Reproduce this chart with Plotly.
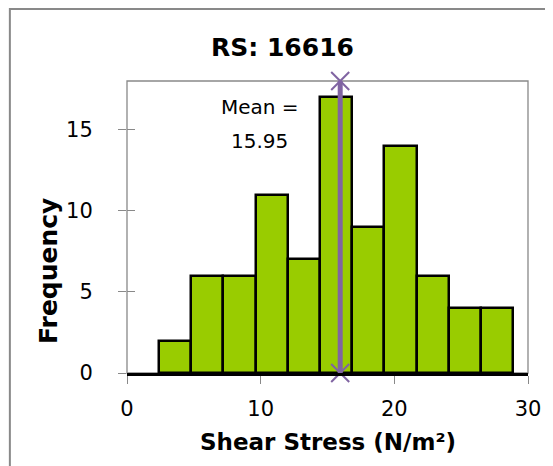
import plotly.graph_objects as go

# histogram
bin_edges = [2.39, 4.80, 7.21, 9.62, 12.03, 14.44, 16.85, 19.26, 21.67, 24.08, 26.49, 28.90]
counts = [2, 6, 6, 11, 7, 17, 9, 14, 6, 4, 4]
mean_val = 15.95

x_ticks = [0, 10, 20, 30]
y_ticks = [0, 5, 10, 15]

FONT = "DejaVu Sans"
GRAY = "#898989"
PURPLE = "#8064A2"

fig = go.Figure()

fig.add_trace(go.Bar(
    x=bin_edges[:-1],
    y=counts,
    width=[b - a for a, b in zip(bin_edges[:-1], bin_edges[1:])],
    offset=0,
    marker=dict(color="#99CC00", line=dict(color="black", width=2.5)),
    showlegend=False,
    hoverinfo="skip",
))

# mean line with x markers at both ends
fig.add_trace(go.Scatter(
    x=[mean_val, mean_val],
    y=[0, 18],
    mode="lines+markers",
    line=dict(color=PURPLE, width=5),
    marker=dict(symbol="x-thin", size=18, line=dict(color=PURPLE, width=2)),
    cliponaxis=False,
    showlegend=False,
    hoverinfo="skip",
))

# dummy trace for the inner half of the y ticks
fig.add_trace(go.Scatter(x=[0], y=[0], yaxis="y2", mode="markers",
                         marker=dict(opacity=0), showlegend=False, hoverinfo="skip"))

# page has an 8px body margin, so the figure is 8px smaller and shifted
fig.update_layout(
    width=545, height=458,
    margin=dict(l=119, r=22, t=73, b=93),
    paper_bgcolor="white", plot_bgcolor="white",
    font=dict(family=FONT, size=21, color="black"),
    bargap=0,
    xaxis=dict(
        range=[0, 30], tickvals=x_ticks, ticks="outside", ticklen=8,
        tickcolor=GRAY, tickwidth=1.3, showgrid=False, zeroline=False,
        showline=True, linecolor="black", linewidth=2.5,
        ticklabelstandoff=7,
    ),
    yaxis=dict(
        range=[0, 18], tickvals=y_ticks, ticks="outside", ticklen=8,
        tickcolor=GRAY, tickwidth=1.3, showgrid=False, zeroline=False,
        showline=False, ticklabelstandoff=21,
    ),
    yaxis2=dict(
        range=[0, 18], tickvals=y_ticks, ticks="inside", ticklen=8,
        tickcolor=GRAY, tickwidth=1.3, overlaying="y", side="left",
        showticklabels=False, showgrid=False, zeroline=False, showline=False,
    ),
    shapes=[
        # plot frame
        dict(type="rect", xref="x domain", yref="y domain", x0=0, x1=1, y0=0, y1=1,
             line=dict(color=GRAY, width=1.3), layer="below"),
        # outer chart border (as close to the corner as the page allows)
        dict(type="rect", xref="paper", yref="paper", x0=-0.2921, x1=1.5, y0=-1, y1=1.2466,
             line=dict(color=GRAY, width=2), layer="below"),
    ],
    annotations=[
        dict(text="<b>RS: 16616</b>", xref="paper", yref="paper", x=0.389, y=1.116,
             xanchor="center", yanchor="middle", showarrow=False,
             font=dict(family=FONT, size=25, color="black")),
        dict(text="<b>Shear Stress (N/m²)</b>", xref="paper", yref="paper", x=0.5, y=-0.236,
             xanchor="center", yanchor="middle", showarrow=False,
             font=dict(family=FONT, size=23, color="black")),
        dict(text="<b>Frequency</b>", xref="paper", yref="paper", x=-0.196, y=0.351,
             xanchor="center", yanchor="middle", textangle=-90, showarrow=False,
             font=dict(family=FONT, size=25, color="black")),
        dict(text="Mean =", x=9.93, y=16.4, xanchor="center", yanchor="middle",
             showarrow=False, font=dict(family=FONT, size=20, color="black")),
        dict(text=f"{mean_val:.2f}", x=9.93, y=14.3, xanchor="center", yanchor="middle",
             showarrow=False, font=dict(family=FONT, size=20, color="black")),
    ],
)

fig.write_html("out.html")
